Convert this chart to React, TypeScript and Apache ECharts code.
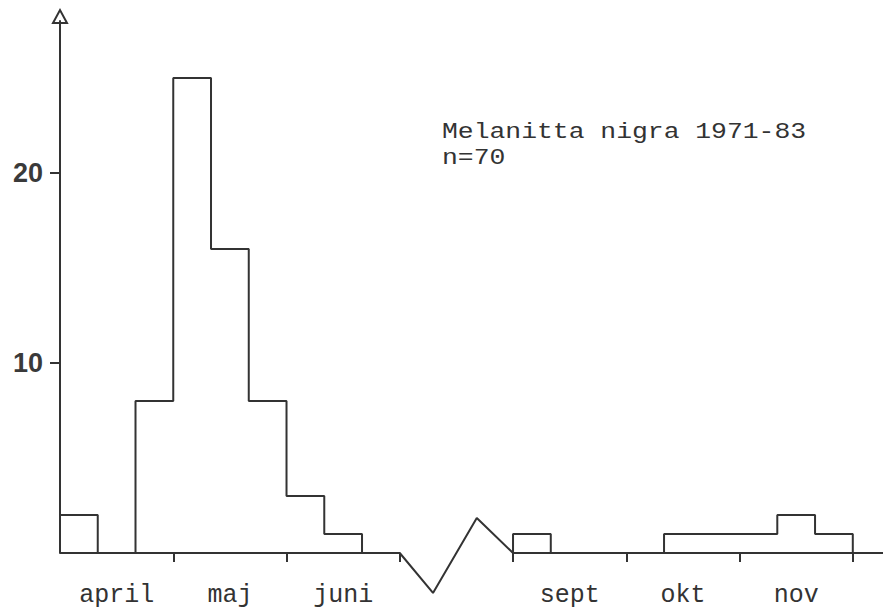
import React, { useEffect, useRef } from "react";
import * as echarts from "echarts";

// ---- data ----
const months = ["april", "maj", "juni", "sept", "okt", "nov"];
const monthStartDekad = [0, 3, 6, 12, 15, 18];
const monthBoundaries = [3, 6, 9, 12, 15, 18, 21];
const springStart = 0;
const springCounts = [2, 0, 8, 25, 16, 8, 3, 1, 0]; // april d1 .. juni d3
const autumnStart = 12;
const autumnCounts = [1, 0, 0, 0, 1, 1, 1, 2, 1]; // sept d1 .. nov d3
const yTickValues = [10, 20];
const titleLines = ["Melanitta nigra 1971-83", "n=70"];
// axis break marker (zig-zag) between juni and sept, in axis units
const breakMarker = [
  [9, 0],
  [9.88, -2.1],
  [11.04, 1.84],
  [12, 0],
];

const INK = "#333333";
const X_MAX = 21.8;

function stepPoints(start: number, values: number[]) {
  const pts: number[][] = [[start, 0]];
  values.forEach((v, i) => pts.push([start + i, v]));
  pts.push([start + values.length, 0]);
  return pts;
}

export default function App() {
  const ref = useRef<HTMLDivElement>(null);
  useEffect(() => {
    if (!ref.current) return;
    const chart = echarts.init(ref.current, null, { renderer: "svg" });
    const baseline = [[0, 0], ...breakMarker, [X_MAX, 0]];
    chart.setOption({
      animation: false,
      backgroundColor: "#ffffff",
      grid: { left: 60, right: 0, top: 21, bottom: 63, containLabel: false },
      xAxis: {
        type: "value",
        min: 0,
        max: X_MAX,
        axisLine: { show: false },
        splitLine: { show: false },
        axisTick: {
          show: true,
          length: 9,
          inside: false,
          customValues: monthBoundaries,
          lineStyle: { color: INK, width: 2 },
        },
        axisLabel: {
          show: true,
          customValues: monthStartDekad.map((s) => s + 1.5),
          formatter: (v: number) => {
            const i = monthStartDekad.findIndex((s) => Math.abs(s + 1.5 - v) < 0.01);
            return i >= 0 ? months[i] : "";
          },
          margin: 30,
          color: INK,
          fontFamily: "Liberation Mono",
          fontSize: 25,
        },
      },
      yAxis: {
        type: "value",
        min: 0,
        max: 28,
        splitLine: { show: false },
        axisLine: { show: true, lineStyle: { color: INK, width: 2 } },
        axisTick: {
          show: true,
          length: 10,
          customValues: yTickValues,
          lineStyle: { color: INK, width: 2 },
        },
        axisLabel: {
          show: true,
          customValues: yTickValues,
          margin: 17,
          color: "#3a3a3a",
          fontFamily: "Liberation Sans",
          fontWeight: "bold",
          fontSize: 27,
        },
      },
      series: [
        {
          type: "line",
          data: baseline,
          symbol: "none",
          clip: false,
          lineStyle: { color: INK, width: 2 },
          silent: true,
        },
        {
          type: "line",
          step: "end",
          data: stepPoints(springStart, springCounts),
          symbol: "none",
          lineStyle: { color: INK, width: 2 },
        },
        {
          type: "line",
          step: "end",
          data: stepPoints(autumnStart, autumnCounts),
          symbol: "none",
          lineStyle: { color: INK, width: 2 },
        },
      ],
      graphic: [
        {
          type: "polygon",
          shape: { points: [[53, 23], [67, 23], [60, 10]] },
          style: { fill: "#ffffff", stroke: INK, lineWidth: 2 },
        },
        ...titleLines.map((t, i) => ({
          type: "text",
          x: 442,
          y: 121 + i * 26,
          scaleX: 1.2,
          style: {
            text: t,
            fill: INK,
            font: "22px 'Liberation Mono'",
            textVerticalAlign: "top",
          },
        })),
      ],
    });
    return () => chart.dispose();
  }, []);
  return (
    <div
      ref={ref}
      style={{ position: "absolute", left: 0, top: 0, width: 883, height: 616, background: "#fff" }}
    />
  );
}
